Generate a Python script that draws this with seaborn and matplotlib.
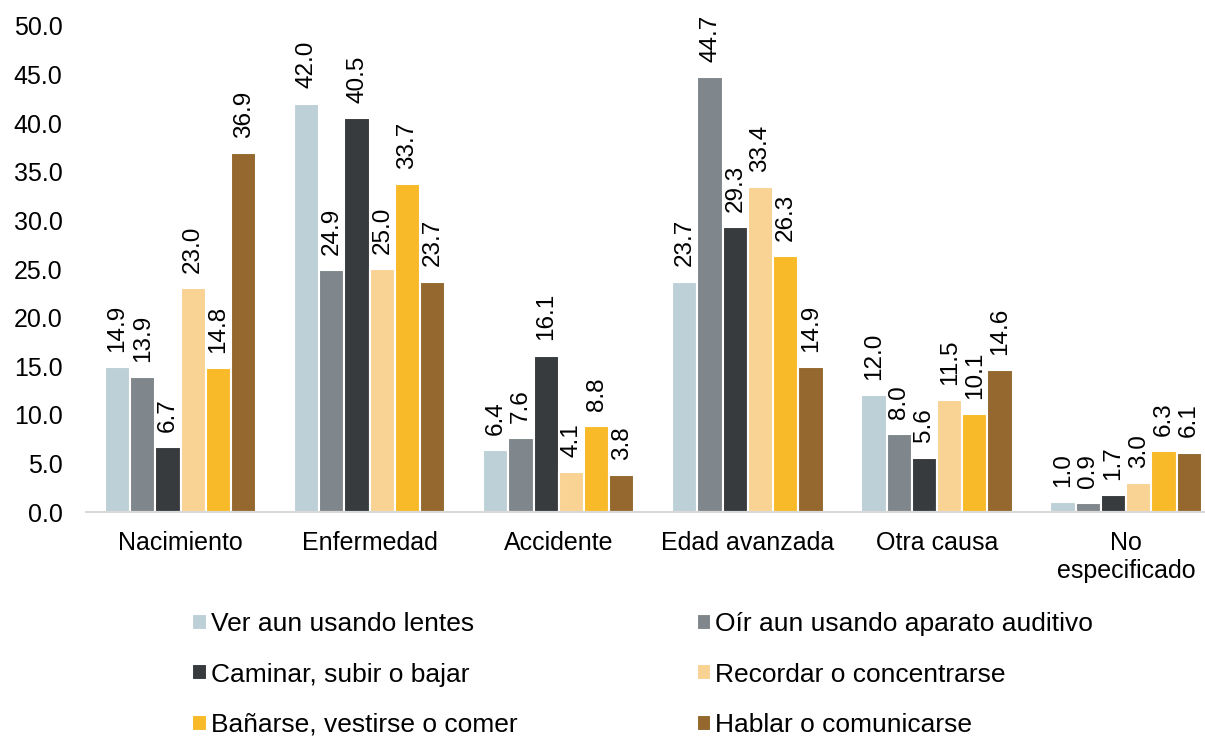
import pandas as pd
import matplotlib
matplotlib.use("Agg")
import matplotlib.pyplot as plt
import seaborn as sns

# Datos del gráfico
causas = ['Nacimiento', 'Enfermedad', 'Accidente', 'Edad avanzada', 'Otra causa', 'No\nespecificado']
tipos = ['Ver aun usando lentes', 'Oír aun usando aparato auditivo', 'Caminar, subir o bajar',
         'Recordar o concentrarse', 'Bañarse, vestirse o comer', 'Hablar o comunicarse']
ver = [14.9, 42.0, 6.4, 23.7, 12.0, 1.0]
oir = [13.9, 24.9, 7.6, 44.7, 8.0, 0.9]
caminar = [6.7, 40.5, 16.1, 29.3, 5.6, 1.7]
recordar = [23.0, 25.0, 4.1, 33.4, 11.5, 3.0]
banarse = [14.8, 33.7, 8.8, 26.3, 10.1, 6.3]
hablar = [36.9, 23.7, 3.8, 14.9, 14.6, 6.1]
colores = ['#BDD0D7', '#7F878C', '#383B3E', '#F9D394', '#F8BA28', '#94682E']

series = [ver, oir, caminar, recordar, banarse, hablar]
filas = []
for tipo, valores in zip(tipos, series):
    for causa, v in zip(causas, valores):
        filas.append({'Causa': causa, 'Tipo': tipo, 'Valor': v})
df = pd.DataFrame(filas)

sns.set_theme(style="white")
plt.rcParams['font.family'] = ['Liberation Sans', 'DejaVu Sans']

fig = plt.figure(figsize=(12.05, 7.38), dpi=100)
ax = fig.add_axes([86 / 1205, 0.3062, 1 - 86 / 1205, 0.9648 - 0.3062])

sns.barplot(data=df, x='Causa', y='Valor', hue='Tipo', palette=colores, width=0.8, saturation=1,
            edgecolor='white', linewidth=1.5, ax=ax, errorbar=None)

for cont in ax.containers:
    ax.bar_label(cont, fmt='%.1f', rotation=90, padding=11, fontsize=17.5, color='black')

ax.set_ylim(0, 50)
ax.set_xlim(-0.5, 5.417)
ax.set_yticks(range(0, 51, 5))
ax.set_yticklabels([f'{v:.1f}' for v in range(0, 51, 5)])
ax.set_xlabel('')
ax.set_ylabel('')
ax.tick_params(axis='both', length=0, labelsize=18, colors='black')
ax.tick_params(axis='x', pad=14)
ax.tick_params(axis='y', pad=17)
sns.despine(ax=ax, left=True)
ax.spines['bottom'].set_color('#D9D9D9')
ax.spines['bottom'].set_linewidth(1.5)

# Leyenda en orden por filas (2 columnas)
handles, labels = ax.get_legend_handles_labels()
ax.get_legend().remove()
orden = [0, 2, 4, 1, 3, 5]
leg = fig.legend([handles[i] for i in orden], [labels[i] for i in orden], ncol=2, loc='upper left',
                 bbox_to_anchor=(179 / 1205, 1 - 599 / 738),
                 frameon=False, fontsize=19, handlelength=0.55, handleheight=0.55, handletextpad=0.15,
                 columnspacing=6.8, labelspacing=1.0, borderpad=0)
for t in leg.get_texts():
    t.set_color('black')

fig.savefig('out.png', dpi=100)
